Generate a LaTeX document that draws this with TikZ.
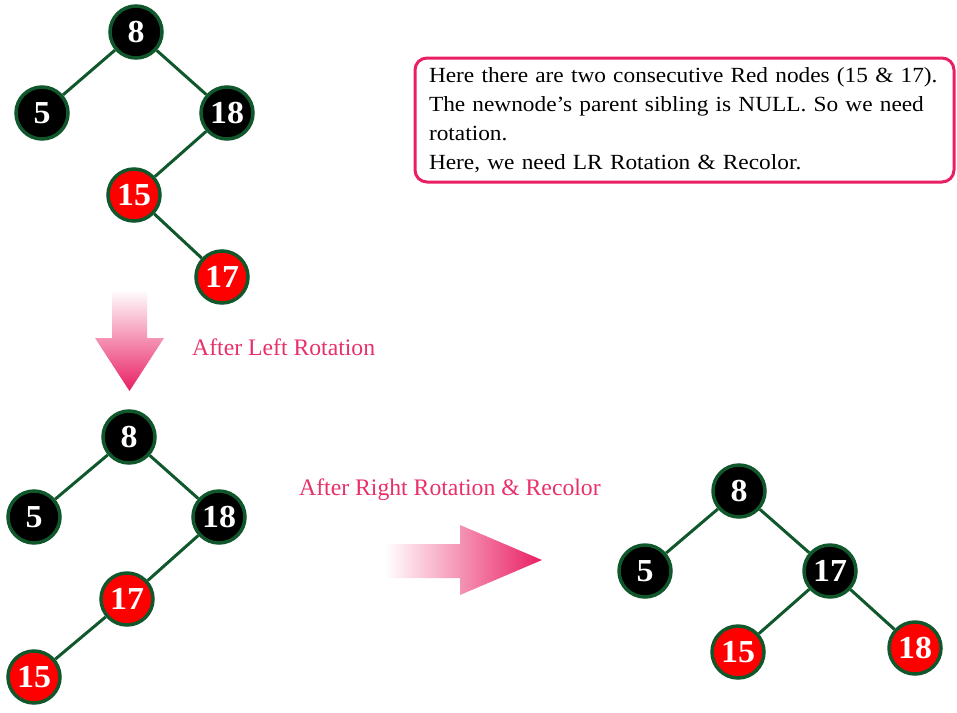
\documentclass[tikz,border=0pt]{standalone}
\usepackage{fontspec}
\setmainfont{Liberation Serif}
\newfontfamily\notefont[FakeStretch=1.08]{Liberation Serif}
\newfontfamily\nodefont[FakeStretch=1.06]{Liberation Serif}
\definecolor{pinkc}{RGB}{233,30,99}
\definecolor{pinktxt}{RGB}{232,48,106}
\definecolor{edgegreen}{RGB}{16,88,44}
\definecolor{redfill}{RGB}{255,0,0}
\tikzset{
  rb/.style={circle, draw=edgegreen, line width=3.5pt, minimum size=52pt, inner sep=0pt,
    text=white, font=\nodefont\fontsize{32}{32}\selectfont\bfseries},
  blk/.style={rb, fill=black},
  rd/.style={rb, fill=redfill},
  tedge/.style={draw=edgegreen, line width=3pt},
  lbl/.style={text=pinktxt, font=\fontsize{23.7}{26}\selectfont},
}
\begin{document}
\begin{tikzpicture}[x=1pt,y=-1pt]
\useasboundingbox (0,0) rectangle (957,712);
% tree 1
\node[blk] (a8) at (136,32) {8};
\node[blk] (a5) at (42,113) {5};
\node[blk] (a18) at (227,113) {18};
\node[rd] (a15) at (134,195) {15};
\node[rd] (a17) at (222,277) {17};
\draw[tedge] (a8) -- (a5);
\draw[tedge] (a8) -- (a18);
\draw[tedge] (a18) -- (a15);
\draw[tedge] (a15) -- (a17);
% note
\node[draw=pinkc, line width=3pt, rounded corners=12pt, minimum width=539pt, minimum height=124pt,
  text width=511pt, inner xsep=14pt, align=left,
  font=\notefont\fontsize{21.6}{29}\selectfont] (note) at (684.5,120)
  {Here there are two consecutive Red nodes (15 \& 17).\\
   The newnode’s parent sibling is NULL. So we need\\
   rotation.\\
   Here, we need LR Rotation \& Recolor.};
% down arrow
\shade[top color=white, bottom color=pinkc, shading angle=0]
  (112,290) -- (147,290) -- (147,338) -- (164,338) -- (129.5,391) -- (95,338) -- (112,338) -- cycle;
\node[lbl, anchor=west, inner sep=0pt] (l1) at (192,347) {After Left Rotation};
% tree 2
\node[blk] (b8) at (129,437) {8};
\node[blk] (b5) at (34,517) {5};
\node[blk] (b18) at (219,517) {18};
\node[rd] (b17) at (127,599) {17};
\node[rd] (b15) at (34,677) {15};
\draw[tedge] (b8) -- (b5);
\draw[tedge] (b8) -- (b18);
\draw[tedge] (b18) -- (b17);
\draw[tedge] (b17) -- (b15);
% right arrow
\shade[left color=white, right color=pinkc]
  (385,544) -- (460,544) -- (460,525) -- (542,560) -- (460,595) -- (460,578) -- (385,578) -- cycle;
\node[lbl, anchor=west, inner sep=0pt] (l2) at (299,490) {After Right Rotation \& Recolor};
% tree 3
\node[blk] (c8) at (739,491) {8};
\node[blk] (c5) at (645,571) {5};
\node[blk] (c17) at (830,571) {17};
\node[rd] (c15) at (738,652) {15};
\node[rd] (c18) at (915,648) {18};
\draw[tedge] (c8) -- (c5);
\draw[tedge] (c8) -- (c17);
\draw[tedge] (c17) -- (c15);
\draw[tedge] (c17) -- (c18);
\end{tikzpicture}
\end{document}
